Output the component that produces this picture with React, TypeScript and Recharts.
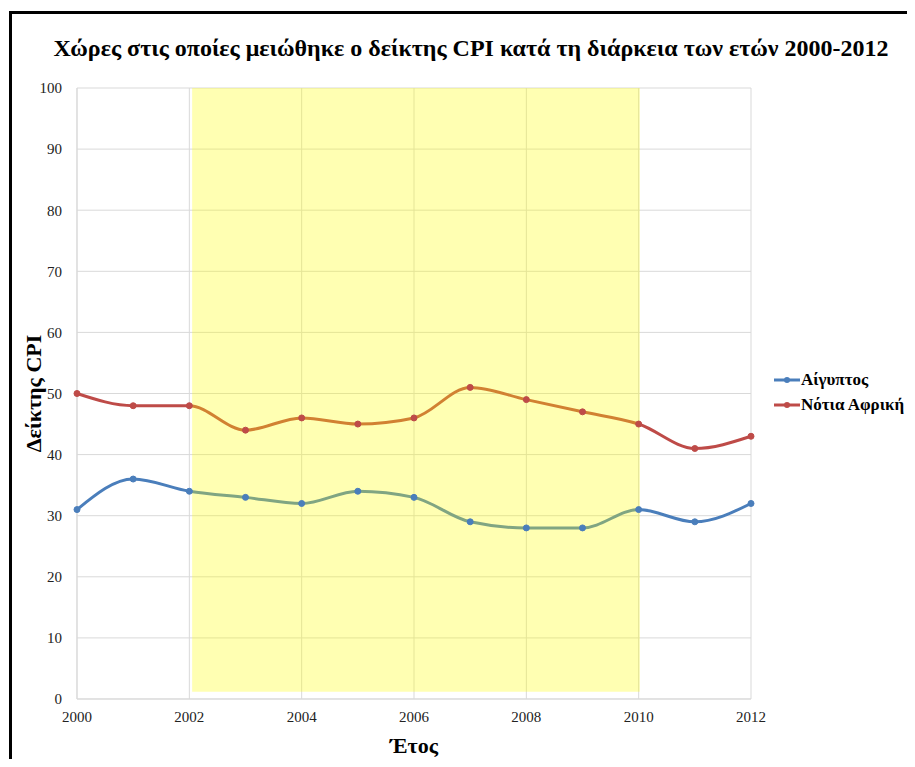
import React from 'react';
import { LineChart, Line, XAxis, YAxis, CartesianGrid, Legend, ReferenceArea } from 'recharts';

const years = [2000, 2001, 2002, 2003, 2004, 2005, 2006, 2007, 2008, 2009, 2010, 2011, 2012];
const egypt = [31, 36, 34, 33, 32, 34, 33, 29, 28, 28, 31, 29, 32];
const southAfrica = [50, 48, 48, 44, 46, 45, 46, 51, 49, 47, 45, 41, 43];
const xTicks = [2000, 2002, 2004, 2006, 2008, 2010, 2012];
const yTicks = [0, 10, 20, 30, 40, 50, 60, 70, 80, 90, 100];

const series = [
  { key: 'egypt', name: 'Αίγυπτος', color: '#4A7EBB' },
  { key: 'southAfrica', name: 'Νότια Αφρική', color: '#BE4B48' },
];

const data = years.map((year, i) => ({ year, egypt: egypt[i], southAfrica: southAfrica[i] }));

const serif = '"Liberation Serif", "Times New Roman", serif';

const YLabel = (props: any) => {
  const vb = props.viewBox || {};
  const cy = vb.y + vb.height / 2;
  return (
    <text x={25} y={cy} transform={`rotate(-90, 25, ${cy})`} textAnchor="middle"
      dominantBaseline="central" fontFamily={serif} fontWeight="bold" fontSize={22} fill="#000">
      Δείκτης CPI
    </text>
  );
};

const XLabel = (props: any) => {
  const vb = props.viewBox || {};
  return (
    <text x={vb.x + vb.width / 2} y={vb.y + 54} textAnchor="middle"
      fontFamily={serif} fontWeight="bold" fontSize={22} fill="#000">
      Έτος
    </text>
  );
};

const LegendBox = () => (
  <div style={{ fontFamily: serif, fontWeight: 'bold', fontSize: 17, color: '#000', whiteSpace: 'nowrap' }}>
    {series.map(s => (
      <div key={s.key} style={{ display: 'flex', alignItems: 'center', height: 25 }}>
        <svg width={26} height={10} style={{ marginRight: 1 }}>
          <line x1={0} y1={5} x2={26} y2={5} stroke={s.color} strokeWidth={3} />
          <circle cx={13} cy={5} r={3} fill={s.color} />
        </svg>
        <span>{s.name}</span>
      </div>
    ))}
  </div>
);

export default function App() {
  return (
    <div style={{ position: 'relative', width: 899, height: 751, overflow: 'hidden', background: '#fff' }}>
      <div style={{ position: 'absolute', left: 1, top: 3, width: 1000, height: 900, border: '3px solid #000', boxSizing: 'border-box' }} />
      <div style={{ position: 'absolute', left: 0, top: 27, width: 926, textAlign: 'center', fontFamily: serif, fontWeight: 'bold', fontSize: 24, color: '#000' }}>
        Χώρες στις οποίες μειώθηκε ο δείκτης CPI κατά τη διάρκεια των ετών 2000-2012
      </div>
      <div style={{ position: 'absolute', left: 0, top: 0 }}>
        <LineChart width={899} height={751} data={data} margin={{ top: 80, right: 156, bottom: 0, left: 0 }}>
          <CartesianGrid stroke="#D9D9D9" strokeWidth={1} />
          <XAxis dataKey="year" type="number" domain={[2000, 2012]} ticks={xTicks} height={60}
            tickLine={false} tickSize={0} tickMargin={12} axisLine={{ stroke: '#D9D9D9' }}
            tick={{ fontFamily: serif, fontSize: 15, fill: '#222' }} label={<XLabel />} />
          <YAxis type="number" domain={[0, 100]} ticks={yTicks} width={69} interval={0}
            tickLine={false} tickSize={0} tickMargin={15} axisLine={{ stroke: '#D9D9D9' }}
            tick={{ fontFamily: serif, fontSize: 15, fill: '#222' }} label={<YLabel />} />
          {series.map(s => (
            <Line key={s.key} type="monotone" dataKey={s.key} name={s.name} stroke={s.color}
              strokeWidth={3} dot={{ r: 3, fill: s.color, stroke: s.color, strokeWidth: 1 }}
              isAnimationActive={false} />
          ))}
          <ReferenceArea x1={2002.05} x2={2010.02} y1={1.2} y2={100} fill="#FFFF00" fillOpacity={0.3}
            stroke="none" zIndex={450} />
          <Legend layout="horizontal" verticalAlign="middle" align="center" content={<LegendBox />}
            wrapperStyle={{ left: 766, top: 359, width: 132, right: 'auto', bottom: 'auto' }} />
        </LineChart>
      </div>
    </div>
  );
}
